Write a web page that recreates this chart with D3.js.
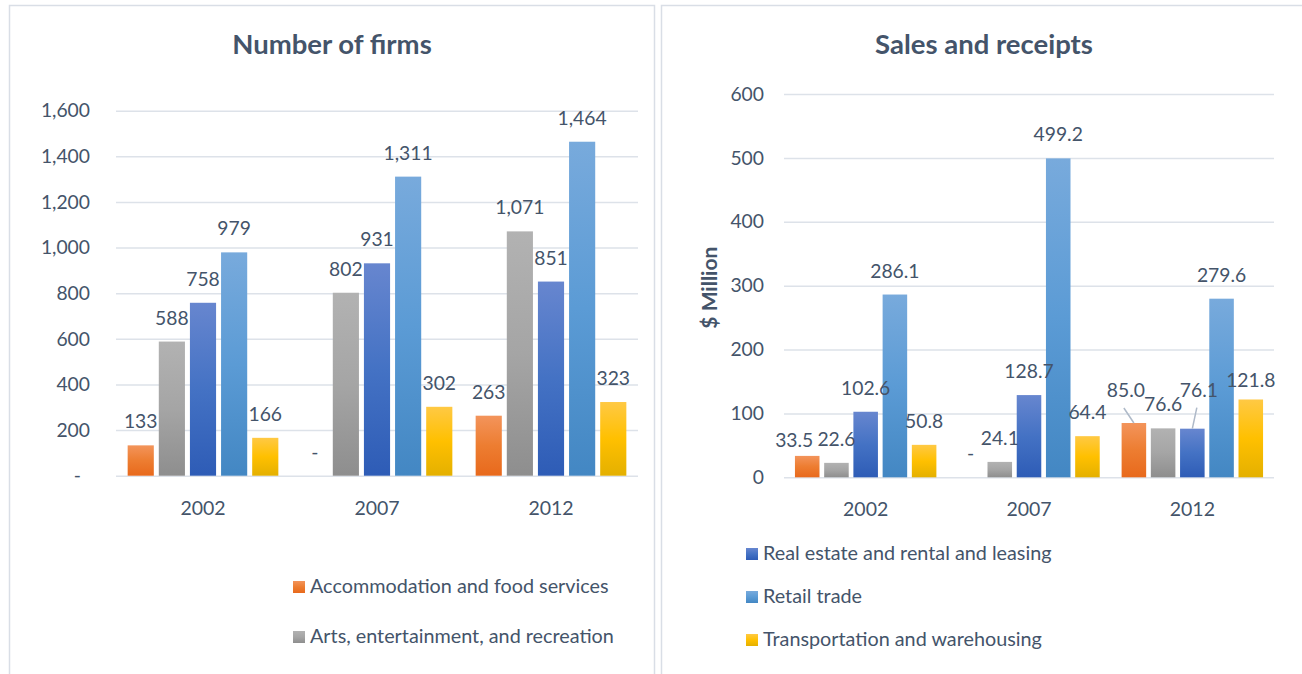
<!DOCTYPE html>
<html>
<head>
<meta charset="utf-8">
<script src="https://cdn.jsdelivr.net/npm/d3@7"></script>
<style>
  html, body { margin: 0; padding: 0; background: #fff; }
  svg { display: block; font-family: Lato, "Open Sans", sans-serif; }
</style>
</head>
<body>
<svg id="chart"></svg>
<script>
const years = ["2002", "2007", "2012"];
const industries = [
  "Accommodation and food services",
  "Arts, entertainment, and recreation",
  "Real estate and rental and leasing",
  "Retail trade",
  "Transportation and warehousing"
];
// rows = years, columns = industries
const firmCounts = [
  [133, 588, 758, 979, 166],
  [0, 802, 931, 1311, 302],
  [263, 1071, 851, 1464, 323]
];
const salesMillions = [
  [33.5, 22.6, 102.6, 286.1, 50.8],
  [0, 24.1, 128.7, 499.2, 64.4],
  [85.0, 76.6, 76.1, 279.6, 121.8]
];
const firmTicks = [0, 200, 400, 600, 800, 1000, 1200, 1400, 1600];
const salesTicks = [0, 100, 200, 300, 400, 500, 600];

// top / middle / bottom of each bar gradient
const seriesColors = [
  ["#F3945B", "#ED7D31", "#E8691C"],
  ["#B2B2B2", "#A5A5A5", "#8E8E8E"],
  ["#6786CF", "#4472C4", "#2E5CB6"],
  ["#78AADC", "#5B9BD5", "#4387C3"],
  ["#FFC944", "#FFC000", "#E4B000"]
];

const TEXT = "#44546A";
const GRID = "#DDE2E9";

const svg = d3.select("#chart").attr("width", 1302).attr("height", 674);

const defs = svg.append("defs");
seriesColors.forEach((c, i) => {
  const g = defs.append("linearGradient")
    .attr("id", `grad${i}`)
    .attr("x1", 0).attr("y1", 0).attr("x2", 0).attr("y2", 1);
  g.append("stop").attr("offset", "0%").attr("stop-color", c[0]);
  g.append("stop").attr("offset", "50%").attr("stop-color", c[1]);
  g.append("stop").attr("offset", "100%").attr("stop-color", c[2]);
});

const panels = [
  {
    title: "Number of firms",
    frameX: 9.5,
    values: firmCounts,
    ticks: firmTicks,
    plotLeft: 116, plotRight: 638, plotTop: 110.7, plotBottom: 475.7,
    tickPad: 26,
    tickFormat: (d) => (d === 0 ? "-" : d3.format(",")(d)),
    labelFormat: (d) => (d === 0 ? "-" : d3.format(",")(d)),
    legendItems: [0, 1],
    legendX: 293, legendY: 581, legendStep: 50,
    nudges: {}
  },
  {
    title: "Sales and receipts",
    frameX: 661.5,
    values: salesMillions,
    ticks: salesTicks,
    plotLeft: 784, plotRight: 1274, plotTop: 94, plotBottom: 477.3,
    tickPad: 20,
    tickFormat: d3.format("d"),
    labelFormat: (d) => (d === 0 ? "-" : d3.format(".1f")(d)),
    yTitle: "$ Million",
    legendItems: [2, 3, 4],
    legendX: 746, legendY: 548, legendStep: 43,
    // manual label placement, as in the original workbook
    nudges: {
      "2002|0": { dx: -13, dy: 8 },
      "2012|4": { dx: 0, dy: 5 },
      "2012|0": { dx: -8, dy: -9, leader: true },
      "2012|2": { dx: 6.5, dy: -15, leader: true }
    }
  }
];

panels.forEach(drawPanel);

function drawPanel(p) {
  const g = svg.append("g");

  g.append("rect")
    .attr("x", p.frameX).attr("y", 5.5)
    .attr("width", 645).attr("height", 720)
    .attr("fill", "#fff")
    .attr("stroke", "#D9DEE6")
    .attr("stroke-width", 1.5);

  const centerX = p.frameX + 322.5;
  g.append("text")
    .attr("x", centerX).attr("y", 54)
    .attr("text-anchor", "middle")
    .attr("fill", TEXT)
    .attr("font-size", 27.5)
    .attr("font-weight", 700)
    .text(p.title);

  const maxTick = d3.max(p.ticks);
  const y = d3.scaleLinear().domain([0, maxTick]).range([p.plotBottom, p.plotTop]);
  const x0 = d3.scaleBand().domain(years).range([p.plotLeft, p.plotRight]);
  const bw = x0.bandwidth();
  const x1 = d3.scaleBand()
    .domain(d3.range(industries.length))
    .range([bw * 0.067, bw * 0.933])
    .paddingInner(0.16);

  // gridlines + tick labels
  const yAxis = g.append("g")
    .attr("transform", `translate(${p.plotLeft},0)`)
    .call(d3.axisLeft(y)
      .tickValues(p.ticks)
      .tickSize(-(p.plotRight - p.plotLeft))
      .tickPadding(p.tickPad)
      .tickFormat(p.tickFormat));
  yAxis.select(".domain").remove();
  yAxis.selectAll(".tick line").attr("stroke", GRID).attr("stroke-width", 1.5);
  yAxis.selectAll(".tick text")
    .attr("fill", TEXT)
    .attr("font-size", 19.3)
    .attr("font-family", "Lato, sans-serif")
    .attr("dx", (d) => (d === 0 && p.tickFormat(d) === "-" ? -9 : 0));

  if (p.yTitle) {
    g.append("text")
      .attr("transform", `translate(717,${(p.plotTop + p.plotBottom) / 2 + 2}) rotate(-90)`)
      .attr("text-anchor", "middle")
      .attr("fill", TEXT)
      .attr("font-size", 21)
      .attr("font-weight", 700)
      .text(p.yTitle);
  }

  const xAxis = g.append("g")
    .attr("transform", `translate(0,${p.plotBottom})`)
    .call(d3.axisBottom(x0).tickSize(0).tickPadding(25));
  xAxis.select(".domain").remove();
  xAxis.selectAll(".tick text")
    .attr("fill", TEXT)
    .attr("font-size", 19.5)
    .attr("font-family", "Lato, sans-serif");

  const cells = [];
  years.forEach((yr, yi) => {
    p.values[yi].forEach((v, si) => cells.push({ year: yr, series: si, value: v }));
  });

  g.append("g").selectAll("rect")
    .data(cells.filter((d) => d.value > 0))
    .join("rect")
    .attr("x", (d) => x0(d.year) + x1(d.series))
    .attr("y", (d) => y(d.value))
    .attr("width", x1.bandwidth())
    .attr("height", (d) => y(0) - y(d.value))
    .attr("fill", (d) => `url(#grad${d.series})`);

  const labels = g.append("g").selectAll("g")
    .data(cells)
    .join("g");

  labels.each(function (d) {
    const nudge = p.nudges[`${d.year}|${d.series}`] || { dx: 0, dy: 0 };
    const cx = x0(d.year) + x1(d.series) + x1.bandwidth() / 2;
    const top = y(d.value);
    const lx = cx + nudge.dx;
    const ly = top - 17 + nudge.dy;
    const sel = d3.select(this);
    if (nudge.leader) {
      sel.append("line")
        .attr("x1", lx - 2).attr("y1", ly + 11)
        .attr("x2", cx).attr("y2", top)
        .attr("stroke", "#AEB9C8")
        .attr("stroke-width", 1.5);
    }
    sel.append("text")
      .attr("x", lx).attr("y", ly)
      .attr("text-anchor", "middle")
      .attr("fill", TEXT)
      .attr("font-size", 19.3)
      .text(p.labelFormat(d.value));
  });

  const legend = g.append("g").selectAll("g")
    .data(p.legendItems)
    .join("g")
    .attr("transform", (d, i) => `translate(${p.legendX},${p.legendY + i * p.legendStep})`);
  legend.append("rect")
    .attr("width", 12).attr("height", 12)
    .attr("fill", (d) => `url(#grad${d})`);
  legend.append("text")
    .attr("x", 17).attr("y", 12)
    .attr("fill", TEXT)
    .attr("font-size", 19.8)
    .text((d) => industries[d]);
}
</script>
</body>
</html>
